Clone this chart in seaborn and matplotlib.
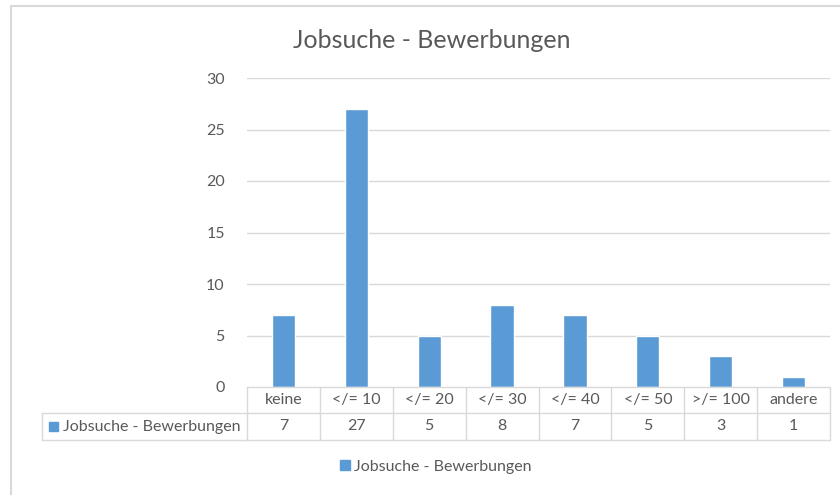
import numpy as np
import pandas as pd
import matplotlib
matplotlib.use('Agg')
import matplotlib.pyplot as plt
import matplotlib.transforms as mtransforms
from matplotlib.patches import Rectangle
import seaborn as sns

title = 'Jobsuche - Bewerbungen'
series_name = 'Jobsuche - Bewerbungen'
categories = ['keine', '</= 10', '</= 20', '</= 30', '</= 40', '</= 50', '>/= 100', 'andere']
values = [7, 27, 5, 8, 7, 5, 3, 1]
y_ticks = [0, 5, 10, 15, 20, 25, 30]

bar_color = '#5B9BD5'
text_color = '#595959'
grid_color = '#D9D9D9'
fs = 11.5

sns.set_theme(style='white')
plt.rcParams['font.family'] = ['Lato', 'DejaVu Sans']

df = pd.DataFrame({'cat': categories, 'val': values})

fig = plt.figure(figsize=(8.4, 4.95), dpi=100)
W, H = 840, 495
# plot area in pixels: x 247..830, y 78..387
ax = fig.add_axes([247 / W, 1 - 387 / H, (830 - 247) / W, (387 - 78) / H])

sns.barplot(data=df, x='cat', y='val', color=bar_color, width=0.32,
            saturation=1, ax=ax)

ax.set_ylim(0, 30)
ax.set_xlim(-0.5, len(categories) - 0.5)
ax.set_yticks(y_ticks)
ax.set_yticklabels([str(t) for t in y_ticks], fontsize=fs, color=text_color)
ax.tick_params(axis='y', length=0, pad=16)
ax.set_xticks([])
ax.set_xlabel('')
ax.set_ylabel('')
for s in ax.spines.values():
    s.set_visible(False)
for t in y_ticks[1:]:
    ax.axhline(t, color=grid_color, lw=1, zorder=0)

# data table under the plot (x in data coords, y in axes fraction)
px = 387 - 78
trans = mtransforms.blended_transform_factory(ax.transData, ax.transAxes)
y0 = 0.0
y1 = -(413 - 387) / px
y2 = -(440 - 387) / px
n = len(categories)
line_kw = dict(color=grid_color, lw=1, clip_on=False)
ax.plot([-0.5, n - 0.5], [y0, y0], transform=trans, **line_kw)
ax.plot([-0.5, n - 0.5], [y1, y1], transform=trans, **line_kw)
ax.plot([-0.5, n - 0.5], [y2, y2], transform=trans, **line_kw)
for i in range(n + 1):
    ax.plot([i - 0.5, i - 0.5], [y0, y2], transform=trans, **line_kw)
for i, (c, v) in enumerate(zip(categories, values)):
    ax.text(i, (y0 + y1) / 2, c, transform=trans, ha='center', va='center',
            fontsize=fs, color=text_color)
    ax.text(i, (y1 + y2) / 2, str(v), transform=trans, ha='center', va='center',
            fontsize=fs, color=text_color)
# header cell for the series
hx = (42 - 247) / (830 - 247)
ax.plot([hx, 0], [y1, y1], transform=ax.transAxes, **line_kw)
ax.plot([hx, 0], [y2, y2], transform=ax.transAxes, **line_kw)
ax.plot([hx, hx], [y1, y2], transform=ax.transAxes, **line_kw)
ax.add_patch(Rectangle((hx + 7 / 583, (y1 + y2) / 2 - 4.5 / px), 9 / 583, 9 / px,
                       transform=ax.transAxes, color=bar_color, clip_on=False))
ax.text(hx + 21 / 583, (y1 + y2) / 2, series_name, transform=ax.transAxes,
        ha='left', va='center', fontsize=fs, color=text_color)

# title
fig.text(432 / W, 1 - 40 / H, title, ha='center', va='center',
         fontsize=18, color=text_color)

# legend
handle = Rectangle((0, 0), 1, 1, color=bar_color)
leg = fig.legend([handle], [series_name], loc='center',
                 bbox_to_anchor=(436 / W, 1 - 467 / H), frameon=False,
                 fontsize=fs, handlelength=0.6, handleheight=0.6,
                 handletextpad=0.3)
for t in leg.get_texts():
    t.set_color(text_color)

# chart border
fig.patches.append(Rectangle((11 / W, -0.1), 1.2, 1 - 6 / H + 0.1,
                             transform=fig.transFigure, fill=False,
                             edgecolor=grid_color, lw=1.5))

fig.savefig('out.png', dpi=100, facecolor='white')
